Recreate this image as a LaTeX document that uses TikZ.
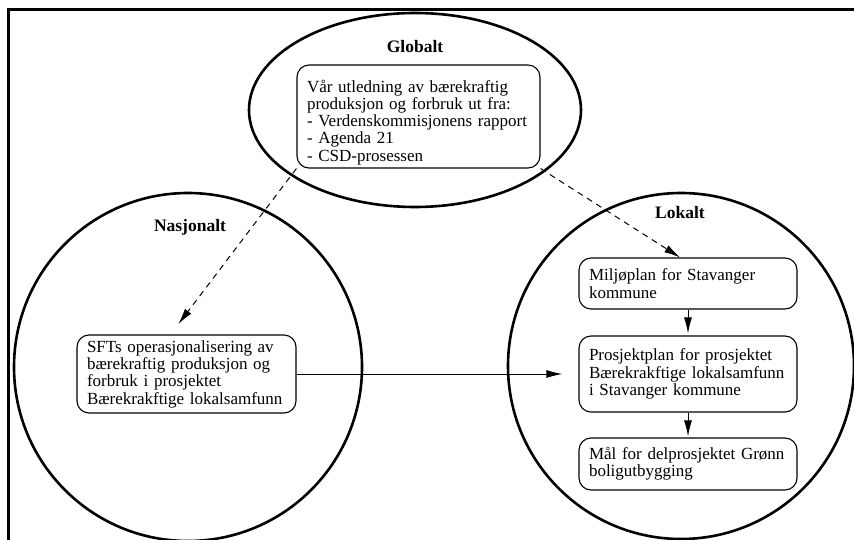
\documentclass[tikz,border=0pt]{standalone}
\usepackage{fontspec}
\setmainfont{Liberation Serif}
\usetikzlibrary{arrows.meta}
\begin{document}
\begin{tikzpicture}[x=1pt,y=-1pt,
    ring/.style={line width=2.6pt},
    box/.style={draw,line width=1.1pt,rounded corners=12pt,align=left,
      inner xsep=10pt,inner ysep=2pt,font=\fontsize{17}{17.3}\selectfont},
    title/.style={font=\fontsize{17.5}{18}\selectfont\bfseries},
    link/.style={line width=1pt,-{Latex[length=16pt,width=8pt]}},
    dasharrow/.style={link,dash pattern=on 6pt off 5pt}]
  \useasboundingbox (0,0) rectangle (854,540);
  \draw[line width=3pt] (8,540) |- (854,10);
  \draw[ring] (415,110) ellipse [x radius=166pt,y radius=97pt];
  \draw[ring] (188,367) circle [radius=174pt];
  \draw[ring] (681,366) circle [radius=173pt];
  \node[title] (globalt) at (415,47) {Globalt};
  \node[title] (nasjonalt) at (190,227) {Nasjonalt};
  \node[title] (lokalt) at (680,213) {Lokalt};
  \node[box,text width=223pt,minimum height=103pt] (vaar) at (418.5,116.5)
    {\rule{0pt}{24pt}Vår utledning av bærekraftig\\produksjon og forbruk ut fra:\\- Verdenskommisjonens rapport\\- Agenda 21\\- CSD-prosessen};
  \node[box,text width=199pt,minimum height=78pt] (sft) at (186.5,374)
    {SFTs operasjonalisering av\\bærekraftig produksjon og\\forbruk i prosjektet\\Bærekrakftige lokalsamfunn};
  \node[box,text width=198pt,minimum height=51pt] (milj) at (688,283.5)
    {Miljøplan for Stavanger\\kommune};
  \node[box,text width=198pt,minimum height=76pt] (prosj) at (688,374)
    {Prosjektplan for prosjektet\\Bærekrakftige lokalsamfunn\\i Stavanger kommune};
  \node[box,text width=198pt,minimum height=52pt] (maal) at (688,464)
    {Mål for delprosjektet Grønn\\boligutbygging};
  \draw[dasharrow,shorten >=13pt] (vaar.south west) -- ([xshift=-16pt]sft.north);
  \draw[dasharrow] (vaar.south east) -- ([xshift=-8pt]milj.north);
  \draw[link,shorten >=16pt] (sft.east) -- (prosj.west);
  \draw[link,shorten >=2pt] (milj.south) -- (prosj.north);
  \draw[link,shorten >=1pt] (prosj.south) -- (maal.north);
\end{tikzpicture}
\end{document}
